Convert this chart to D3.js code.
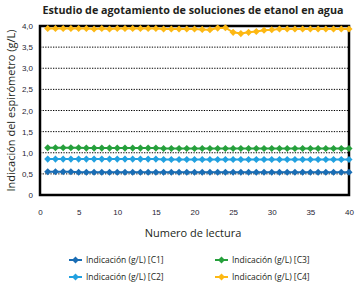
<!DOCTYPE html>
<html lang="es">
<head>
<meta charset="UTF-8">
<title>Estudio de agotamiento</title>
<script src="https://cdn.jsdelivr.net/npm/d3@7/dist/d3.min.js"></script>
<style>
  body { margin: 0; background: #fff; }
  svg { display: block; font-family: "Open Sans", "Liberation Sans", sans-serif; }
</style>
</head>
<body>
<script>
  // lecturas 1..40
  const readings = d3.range(1, 41);
  const seriesNames = ["Indicación (g/L) [C1]", "Indicación (g/L) [C2]", "Indicación (g/L) [C3]", "Indicación (g/L) [C4]"];
  const c1 = [0.55,0.55,0.55,0.55,0.54,0.54,0.54,0.54,0.54,0.54,0.54,0.54,0.54,0.54,0.54,0.54,0.54,0.54,0.54,0.54,
              0.54,0.54,0.54,0.54,0.54,0.54,0.54,0.54,0.54,0.54,0.54,0.54,0.54,0.54,0.54,0.54,0.54,0.54,0.54,0.54];
  const c2 = [0.85,0.85,0.85,0.85,0.85,0.85,0.85,0.85,0.85,0.85,0.85,0.85,0.85,0.85,0.85,0.84,0.84,0.84,0.84,0.84,
              0.84,0.84,0.84,0.84,0.84,0.84,0.84,0.84,0.84,0.84,0.84,0.84,0.84,0.84,0.84,0.84,0.84,0.84,0.84,0.84];
  const c3 = [1.12,1.12,1.12,1.12,1.12,1.11,1.11,1.11,1.11,1.11,1.11,1.11,1.11,1.11,1.11,1.10,1.10,1.10,1.10,1.10,
              1.10,1.10,1.10,1.10,1.10,1.10,1.10,1.10,1.10,1.10,1.10,1.10,1.10,1.10,1.10,1.10,1.10,1.10,1.10,1.10];
  const c4 = [3.94,3.94,3.94,3.94,3.94,3.94,3.93,3.94,3.93,3.94,3.94,3.94,3.94,3.94,3.94,3.93,3.93,3.93,3.93,3.93,
              3.92,3.91,3.95,3.96,3.85,3.82,3.85,3.87,3.90,3.91,3.93,3.93,3.93,3.93,3.93,3.93,3.93,3.93,3.93,3.93];
  const colors = ["#1a6db4", "#22a1e0", "#26a03c", "#fdb813"];
  const xTicks = [0, 5, 10, 15, 20, 25, 30, 35, 40];
  const yTicks = [0, 0.5, 1, 1.5, 2, 2.5, 3, 3.5, 4];

  const allSeries = [c1, c2, c3, c4];
  const width = 357, height = 291;
  const margin = { top: 26, right: 8, bottom: 98, left: 40 };

  const svg = d3.select("body").append("svg")
    .attr("width", width)
    .attr("height", height);

  const x = d3.scaleLinear().domain([0, 40]).range([margin.left, width - margin.right]);
  const y = d3.scaleLinear().domain([0, 4]).range([height - margin.bottom + 2, margin.top]);

  // lineas de rejilla punteadas
  svg.append("g")
    .selectAll("line")
    .data(yTicks.filter(d => d > 0 && d < 4))
    .enter().append("line")
    .attr("x1", x(0)).attr("x2", x(40))
    .attr("y1", d => y(d)).attr("y2", d => y(d))
    .attr("stroke", "#000")
    .attr("stroke-width", 1)
    .attr("stroke-dasharray", "1.3,1.3");

  // marco
  svg.append("rect")
    .attr("x", x(0)).attr("y", y(4))
    .attr("width", x(40) - x(0))
    .attr("height", y(0) - y(4))
    .attr("fill", "none")
    .attr("stroke", "#000")
    .attr("stroke-width", 2.5);

  // etiquetas de ejes
  const yAxis = d3.axisLeft(y).tickValues(yTicks).tickSize(0).tickPadding(7)
    .tickFormat(d => d === 0 ? "0" : d3.format(".1f")(d).replace(".", ","));
  const gy = svg.append("g").attr("transform", `translate(${x(0)},0)`).call(yAxis);
  gy.select(".domain").remove();
  gy.selectAll("text").attr("font-size", 8).attr("fill", "#1f2433");

  const xAxis = d3.axisBottom(x).tickValues(xTicks).tickSize(0).tickPadding(14);
  const gx = svg.append("g").attr("transform", `translate(0,${y(0)})`).call(xAxis);
  gx.select(".domain").remove();
  gx.selectAll("text").attr("font-size", 8).attr("fill", "#1f2433");

  const diamond = d3.symbol().type(d3.symbolDiamond2).size(32);

  allSeries.forEach((vals, i) => {
    const pts = readings.map((r, j) => [r, vals[j]]);
    svg.append("path")
      .attr("d", d3.line().x(d => x(d[0])).y(d => y(d[1]))(pts))
      .attr("fill", "none")
      .attr("stroke", colors[i])
      .attr("stroke-width", 2);
    svg.append("g").selectAll("path")
      .data(pts)
      .enter().append("path")
      .attr("d", diamond)
      .attr("transform", d => `translate(${x(d[0])},${y(d[1])})`)
      .attr("fill", colors[i]);
  });

  // titulo
  svg.append("text")
    .attr("x", 193).attr("y", 14)
    .attr("text-anchor", "middle")
    .attr("font-size", 10.5)
    .attr("font-weight", "bold")
    .attr("fill", "#231f20")
    .attr("textLength", 301)
    .attr("lengthAdjust", "spacingAndGlyphs")
    .text("Estudio de agotamiento de soluciones de etanol en agua");

  svg.append("text")
    .attr("transform", `translate(15,${(y(0) + y(4)) / 2}) rotate(-90)`)
    .attr("text-anchor", "middle")
    .attr("font-size", 11)
    .attr("fill", "#231f20")
    .text("Indicación del espirómetro (g/L)");

  svg.append("text")
    .attr("x", 193).attr("y", 237)
    .attr("text-anchor", "middle")
    .attr("font-size", 11)
    .attr("fill", "#231f20")
    .text("Numero de lectura");

  // leyenda
  const legendPos = [[69, 260], [69, 277], [215, 260], [215, 277]];
  const legend = svg.append("g").selectAll("g")
    .data(seriesNames)
    .enter().append("g")
    .attr("transform", (d, i) => `translate(${legendPos[i][0]},${legendPos[i][1]})`);
  legend.append("line")
    .attr("x1", 0).attr("x2", 13)
    .attr("stroke", (d, i) => colors[i])
    .attr("stroke-width", 2);
  legend.append("path")
    .attr("d", diamond)
    .attr("transform", "translate(6.5,0)")
    .attr("fill", (d, i) => colors[i]);
  legend.append("text")
    .attr("x", 17).attr("dy", "0.35em")
    .attr("font-size", 8.5)
    .attr("fill", "#231f20")
    .text(d => d);
</script>
</body>
</html>
